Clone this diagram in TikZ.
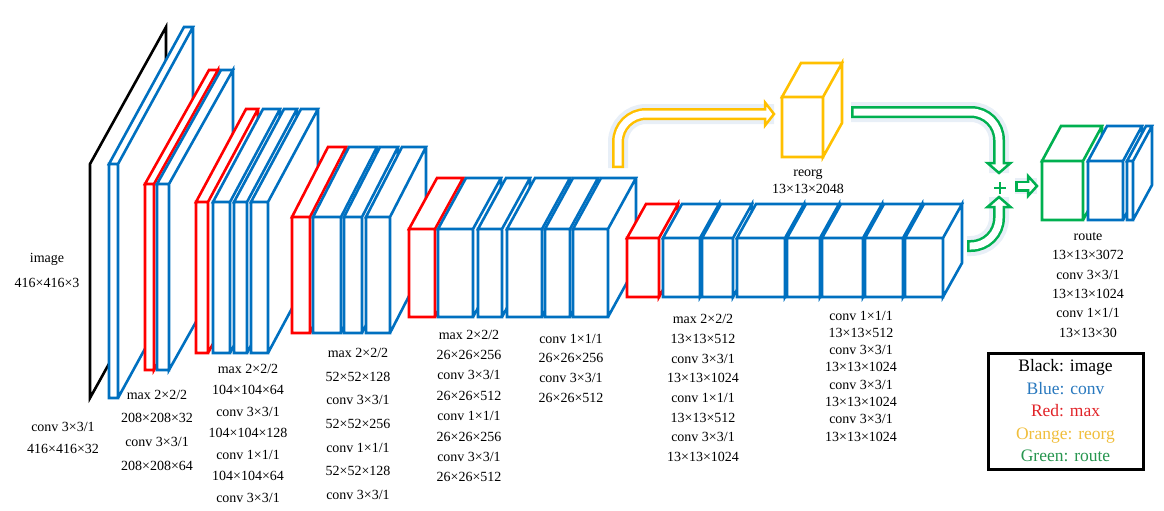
\documentclass[tikz,border=0pt]{standalone}
\usepackage{fontspec}
\setmainfont{Liberation Serif}
\usetikzlibrary{calc}
\definecolor{cblue}{RGB}{0,112,192}
\definecolor{cred}{RGB}{255,0,0}
\definecolor{corange}{RGB}{255,192,0}
\definecolor{cgreen}{RGB}{0,176,80}
\definecolor{glowc}{RGB}{150,180,220}
\definecolor{lblue}{RGB}{40,120,190}
\definecolor{lred}{RGB}{225,35,40}
\definecolor{lorange}{RGB}{240,190,60}
\definecolor{lgreen}{RGB}{40,150,80}
\newcommand{\layerbox}[7]{%
  \filldraw[fill=white,draw=#1,line width=2.6pt,line join=miter,miter limit=4]
    (#2,#4) rectangle (#3,#5)
    (#2,#4) -- ++(#6,-#7) -- ++({#3-#2},0) -- (#3,#4) -- cycle
    (#3,#4) -- ++(#6,-#7) -- ++(0,{#5-#4}) -- (#3,#5) -- cycle;}
\begin{document}
\begin{tikzpicture}[x=1pt,y=-1pt,
  lbl/.style={align=center,inner sep=0pt,font=\fontsize{14}{20}\selectfont},
  shaftout/.style={line width=12pt,rounded corners=28pt},
  shaftin/.style={white,line width=7pt,rounded corners=28pt,shorten <=2.5pt},
  glow/.style={glowc,line width=20pt,rounded corners=28pt,opacity=.22},
  headst/.style={fill=white,line width=2.5pt,line join=miter}]
\useasboundingbox (0,0) rectangle (1164,511);
% ---------- group 1 ----------
\filldraw[fill=white,draw=black,line width=2.6pt,line join=miter,miter limit=4]
  (90,398) -- (90,164) -- (166,27) -- (166,261) -- cycle;
\layerbox{cblue}{109}{118}{164}{398}{75}{137}
% ---------- group 2 ----------
\layerbox{cred}{145}{154}{184}{370}{64}{114}
\layerbox{cblue}{157}{169}{184}{370}{64}{114}
% ---------- group 3 ----------
\layerbox{cred}{196}{208}{202}{353}{50}{93}
\layerbox{cblue}{213}{230}{202}{353}{50}{93}
\layerbox{cblue}{234}{247}{202}{353}{50}{93}
\layerbox{cblue}{251}{268}{202}{353}{50}{93}
% ---------- group 4 ----------
\layerbox{cred}{292}{310}{217}{333}{36}{70}
\layerbox{cblue}{313}{341}{217}{333}{36}{70}
\layerbox{cblue}{344}{362}{217}{333}{36}{70}
\layerbox{cblue}{366}{390}{217}{333}{36}{70}
% ---------- group 5 ----------
\layerbox{cred}{409}{435}{229}{317}{28}{51}
\layerbox{cblue}{438}{473}{229}{317}{28}{51}
\layerbox{cblue}{478}{502}{229}{317}{28}{51}
\layerbox{cblue}{507}{542}{229}{317}{28}{51}
\layerbox{cblue}{545}{570}{229}{317}{28}{51}
\layerbox{cblue}{573}{608}{229}{317}{28}{51}
% ---------- group 6 ----------
\layerbox{cred}{627}{659}{238}{297}{19}{34}
\layerbox{cblue}{663}{700}{238}{297}{19}{34}
\layerbox{cblue}{702}{733}{238}{297}{19}{34}
\layerbox{cblue}{737}{785}{238}{297}{19}{34}
\layerbox{cblue}{787}{820}{238}{297}{19}{34}
\layerbox{cblue}{822}{863}{238}{297}{19}{34}
\layerbox{cblue}{865}{903}{238}{297}{19}{34}
\layerbox{cblue}{905}{943}{238}{297}{19}{34}
% ---------- reorg ----------
\layerbox{corange}{782}{823}{97}{157}{19}{34}
% ---------- route ----------
\layerbox{cgreen}{1042}{1083}{161}{220}{19}{35}
\layerbox{cblue}{1088}{1123}{161}{220}{19}{35}
\layerbox{cblue}{1127}{1133}{161}{220}{19}{35}
% ---------- arrows ----------
\coordinate (oS) at (618,168); \coordinate (oB) at (765,114); \coordinate (oT) at (774,114);
\coordinate (gS) at (851,112); \coordinate (gB) at (999,163); \coordinate (gT) at (999,173);
\coordinate (hS) at (967,246); \coordinate (hB) at (999,207); \coordinate (hT) at (999,197);
\coordinate (sS) at (1015,186); \coordinate (sB) at (1028,186); \coordinate (sT) at (1037,186);
\coordinate (plus) at (1000,188);
\begin{scope}[shift={(2,3)}]
\draw[glow] (oS) |- (oT);
\draw[glow] (gS) -| (gT);
\draw[glow] (hS) -| (hT);
\draw[glow,line width=16pt] (sS) -- (sT);
\end{scope}
% orange
\draw[shaftout,corange] (oS) |- (oB);
\filldraw[headst,draw=corange] ($(oB)+(0,-11.5)$) -- (oT) -- ($(oB)+(0,11.5)$) -- cycle;
\draw[shaftin] (oS) |- ($(oB)+(3,0)$);
% green top
\draw[shaftout,cgreen] (gS) -| (gB);
\filldraw[headst,draw=cgreen] ($(gB)+(-11.5,0)$) -- (gT) -- ($(gB)+(11.5,0)$) -- cycle;
\draw[shaftin] (gS) -| ($(gB)+(0,3)$);
% green bottom
\draw[shaftout,cgreen] (hS) -| (hB);
\filldraw[headst,draw=cgreen] ($(hB)+(-11.5,0)$) -- (hT) -- ($(hB)+(11.5,0)$) -- cycle;
\draw[shaftin] (hS) -| ($(hB)+(0,-3)$);
% small green
\draw[cgreen,line width=11pt] (sS) -- (sB);
\filldraw[headst,draw=cgreen] ($(sB)+(0,-10)$) -- (sT) -- ($(sB)+(0,10)$) -- cycle;
\draw[white,line width=6pt,shorten <=2.5pt] (sS) -- ($(sB)+(3,0)$);
% plus
\draw[cgreen,line width=2.5pt] ($(plus)+(-6,0)$) -- ($(plus)+(6,0)$) ($(plus)+(0,-6)$) -- ($(plus)+(0,6)$);
% ---------- labels ----------
\node[lbl,font=\fontsize{14}{25}\selectfont] (limg) at (47,270) {image\\416×416×3};
\node[lbl,font=\fontsize{14}{22}\selectfont] (l0) at (63,438) {conv 3×3/1\\416×416×32};
\node[lbl,font=\fontsize{14}{23.7}\selectfont] (l1) at (157,430) {max 2×2/2\\208×208×32\\conv 3×3/1\\208×208×64};
\node[lbl,font=\fontsize{14}{21.5}\selectfont] (l2) at (248,433) {max 2×2/2\\104×104×64\\conv 3×3/1\\104×104×128\\conv 1×1/1\\104×104×64\\conv 3×3/1};
\node[lbl,font=\fontsize{14}{23.7}\selectfont] (l3) at (358,424) {max 2×2/2\\52×52×128\\conv 3×3/1\\52×52×256\\conv 1×1/1\\52×52×128\\conv 3×3/1};
\node[lbl,font=\fontsize{14}{20.4}\selectfont] (l4) at (469,406) {max 2×2/2\\26×26×256\\conv 3×3/1\\26×26×512\\conv 1×1/1\\26×26×256\\conv 3×3/1\\26×26×512};
\node[lbl,font=\fontsize{14}{19.7}\selectfont] (l5) at (571,368) {conv 1×1/1\\26×26×256\\conv 3×3/1\\26×26×512};
\node[lbl,font=\fontsize{14}{19.7}\selectfont] (l6) at (703,388) {max 2×2/2\\13×13×512\\conv 3×3/1\\13×13×1024\\conv 1×1/1\\13×13×512\\conv 3×3/1\\13×13×1024};
\node[lbl,font=\fontsize{14}{17.3}\selectfont] (l7) at (861,376) {conv 1×1/1\\13×13×512\\conv 3×3/1\\13×13×1024\\conv 3×3/1\\13×13×1024\\conv 3×3/1\\13×13×1024};
\node[lbl,font=\fontsize{14}{17}\selectfont] (lreorg) at (808,181) {reorg\\13×13×2048};
\node[lbl,font=\fontsize{14}{19.4}\selectfont] (lroute) at (1088,285) {route\\13×13×3072\\conv 3×3/1\\13×13×1024\\conv 1×1/1\\13×13×30};
% ---------- legend ----------
\node[draw,line width=3pt,minimum width=155pt,minimum height=116pt,inner sep=0pt] (legend) at (1065.5,411) {};
\node[lbl,font=\fontsize{17.5}{22.5}\selectfont] (legtext) at (legend.center) {Black: image\\\textcolor{lblue}{Blue: conv}\\\textcolor{lred}{Red: max}\\\textcolor{lorange}{Orange: reorg}\\\textcolor{lgreen}{Green: route}};
\end{tikzpicture}
\end{document}
